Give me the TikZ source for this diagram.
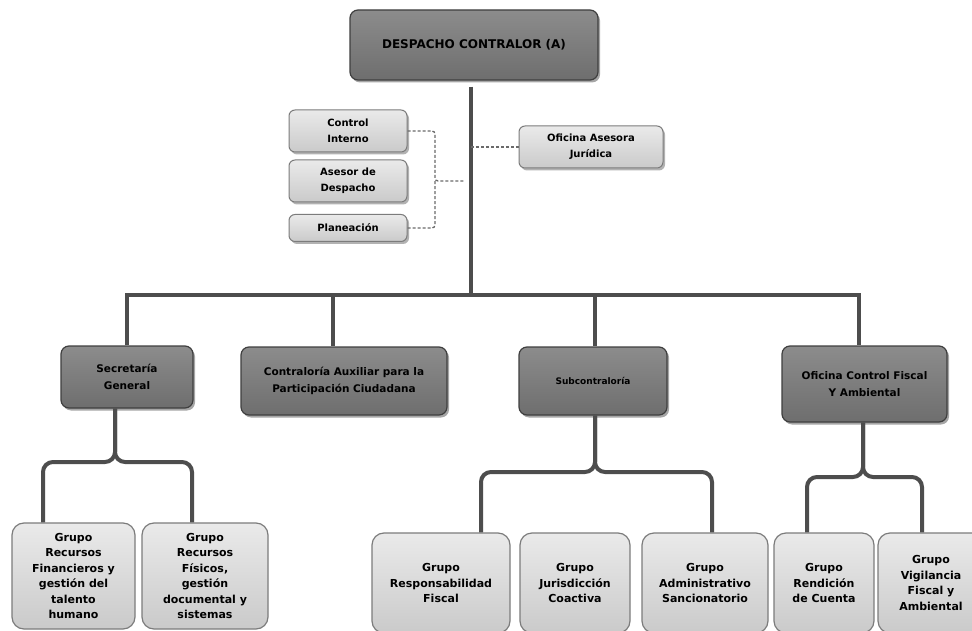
\documentclass[tikz,border=0pt]{standalone}
\usepackage{fontspec}
\setmainfont{DejaVu Sans}
\usetikzlibrary{shadows}
\definecolor{linegray}{HTML}{4D4D4D}
\definecolor{dashgray}{HTML}{6A6A6A}
\definecolor{darkedge}{HTML}{3F3F3F}
\definecolor{darktop}{HTML}{8C8C8C}
\definecolor{darkbot}{HTML}{6E6E6E}
\definecolor{lightedge}{HTML}{7C7C7C}
\definecolor{lighttop}{HTML}{EAEAEA}
\definecolor{lightbot}{HTML}{CACACA}
\begin{document}
\begin{tikzpicture}[x=1pt,y=-1pt,
  darkbox/.style={draw=darkedge, line width=1.2pt, rounded corners=8pt,
    top color=darktop, bottom color=darkbot, text=black,
    drop shadow={shadow xshift=2pt, shadow yshift=-2.5pt, opacity=0.35, fill=black},
    align=center, inner sep=2pt, font=\bfseries\fontsize{10.5}{17}\selectfont},
  lightbox/.style={draw=lightedge, line width=1pt, rounded corners=6pt,
    top color=lighttop, bottom color=lightbot, text=black,
    drop shadow={shadow xshift=2pt, shadow yshift=-2.5pt, opacity=0.3, fill=black},
    align=center, inner sep=2pt, font=\bfseries\fontsize{10}{16}\selectfont,
    minimum width=118pt},
  groupbox/.style={draw=lightedge, line width=1.2pt, rounded corners=12pt,
    top color=lighttop, bottom color=lightbot, text=black,
    align=center, inner sep=2pt, font=\bfseries\fontsize{11}{15.5}\selectfont},
  conn/.style={draw=linegray, line width=4pt},
  dashconn/.style={draw=dashgray, line width=1.3pt, dash pattern=on 3pt off 2pt}
]
\useasboundingbox (0,0) rectangle (972,631);
\clip (0,0) rectangle (972,631);
\fill[white] (0,0) rectangle (972,631);

% top
\node[darkbox, minimum width=248pt, minimum height=70pt,
  font=\bfseries\fontsize{12}{14}\selectfont] (despacho) at (474,45) {DESPACHO CONTRALOR (A)};

% staff boxes
\node[lightbox, minimum height=42pt] (control) at (348,131) {Control\\Interno};
\node[lightbox, minimum height=42pt] (asesor) at (348,181) {Asesor de\\Despacho};
\node[lightbox, minimum height=27pt] (planeacion) at (348,228) {Planeación};
\node[lightbox, minimum width=144pt, minimum height=42pt] (juridica) at (591,147) {Oficina Asesora\\Jurídica};

% level 2
\node[darkbox, minimum width=132pt, minimum height=62pt] (sec) at (127,377) {Secretaría\\General};
\node[darkbox, minimum width=206pt, minimum height=68pt] (aux) at (344,381) {Contraloría Auxiliar para la\\Participación Ciudadana};
\node[darkbox, minimum width=148pt, minimum height=68pt,
  font=\bfseries\fontsize{9}{17}\selectfont] (sub) at (593,381) {Subcontraloría};
\node[darkbox, minimum width=165pt, minimum height=76pt] (ofi) at (864.5,384) {Oficina Control Fiscal\\Y Ambiental};

% groups
\node[groupbox, minimum width=123pt, minimum height=106pt] (g1) at (73.5,576) {Grupo\\Recursos\\Financieros y\\gestión del\\talento\\humano};
\node[groupbox, minimum width=126pt, minimum height=106pt] (g2) at (205,576) {Grupo\\Recursos\\Físicos,\\gestión\\documental y\\sistemas};
\node[groupbox, minimum width=138pt, minimum height=100pt] (g3) at (441,583) {Grupo\\Responsabilidad\\Fiscal};
\node[groupbox, minimum width=110pt, minimum height=100pt] (g4) at (575,583) {Grupo\\Jurisdicción\\Coactiva};
\node[groupbox, minimum width=126pt, minimum height=100pt] (g5) at (705,583) {Grupo\\Administrativo\\Sancionatorio};
\node[groupbox, minimum width=100pt, minimum height=100pt] (g6) at (824,583) {Grupo\\Rendición\\de Cuenta};
\node[groupbox, minimum width=106pt, minimum height=100pt] (g7) at (931,583) {Grupo\\Vigilancia\\Fiscal y\\Ambiental};

% main connectors
\coordinate (bus) at (0,295);
\coordinate (mainx) at (471,0);
\draw[conn, shorten <=6pt] ([xshift=-3pt]despacho.south) -- ([xshift=-3pt]despacho.south |- bus);
\draw[conn] (sec.north) -- (sec.north |- bus) -- ([xshift=-6pt]ofi.north |- bus) -- ([xshift=-6pt]ofi.north);
\draw[conn] ([xshift=-11pt]aux.north |- bus) -- ([xshift=-11pt]aux.north);
\draw[conn] ([xshift=2pt]sub.north |- bus) -- ([xshift=2pt]sub.north);

% dashed staff connectors
\coordinate (brk) at (435,181);
\coordinate (brkend) at (464,181);
\draw[dashconn, rounded corners=3pt] (control.east) -| (brk) -- (brkend);
\draw[dashconn, rounded corners=3pt] (planeacion.east) -| (brk);
\draw[dashconn] (juridica.west) -- (juridica.west -| mainx);

% braces
\coordinate (sa) at (43,462);
\coordinate (sb) at (192,462);
\draw[conn, rounded corners=10pt] ([xshift=-12pt]sec.south) |- (sa) -- (sa |- g1.north);
\draw[conn, rounded corners=10pt] ([xshift=-12pt]sec.south) |- (sb) -- (sb |- g2.north);
\coordinate (sc) at (481,472);
\coordinate (sd) at (712,472);
\draw[conn, rounded corners=10pt] ([xshift=2pt]sub.south) |- (sc) -- (sc |- g3.north);
\draw[conn, rounded corners=10pt] ([xshift=2pt]sub.south) |- (sd) -- (sd |- g5.north);
\coordinate (se) at (807,477);
\coordinate (sf) at (922,477);
\draw[conn, rounded corners=10pt] ([xshift=-1.5pt]ofi.south) |- (se) -- (se |- g6.north);
\draw[conn, rounded corners=10pt] ([xshift=-1.5pt]ofi.south) |- (sf) -- (sf |- g7.north);
\end{tikzpicture}
\end{document}
